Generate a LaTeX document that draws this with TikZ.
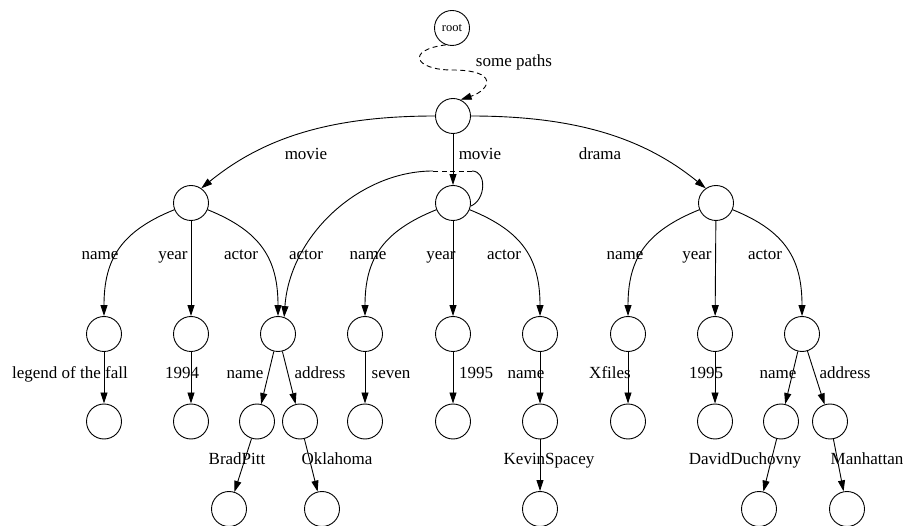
\documentclass[tikz,border=0pt]{standalone}
\usepackage{fontspec}
\setmainfont{Liberation Serif}
\usetikzlibrary{arrows.meta}
\tikzset{
  obj/.style={draw, circle, minimum size=35pt, inner sep=0pt, line width=0.9pt},
  lbl/.style={font=\fontsize{17}{20}\selectfont, inner sep=0pt, anchor=base},
  edge/.style={line width=0.9pt, -{Triangle[length=11pt,width=7pt]}},
  plain/.style={line width=0.9pt},
  dash5/.style={dash pattern=on 5pt off 3.5pt},
}
\begin{document}
\begin{tikzpicture}[x=1pt,y=1pt]
\useasboundingbox (0,0) rectangle (905,525);
% objects
\node[obj, font=\fontsize{12.5}{14}\selectfont] (root) at (452,497) {root};
\node[obj] (db) at (453,409) {};
\node[obj] (mv1) at (191,322) {};
\node[obj] (mv2) at (453,322) {};
\node[obj] (dr) at (716,322) {};
\node[obj] (nm1) at (104,191) {};
\node[obj] (yr1) at (191,191) {};
\node[obj] (ac1) at (278,191) {};
\node[obj] (nm2) at (365,191) {};
\node[obj] (yr2) at (453,191) {};
\node[obj] (ac2) at (540,191) {};
\node[obj] (nm3) at (628,191) {};
\node[obj] (yr3) at (715,191) {};
\node[obj] (ac3) at (802,191) {};
\node[obj] (v1) at (104,103.5) {};
\node[obj] (v2) at (191,103.5) {};
\node[obj] (acn1) at (257,103.5) {};
\node[obj] (aca1) at (300,103.5) {};
\node[obj] (v3) at (365,103.5) {};
\node[obj] (v4) at (453,103.5) {};
\node[obj] (acn2) at (540,103.5) {};
\node[obj] (v5) at (628,103.5) {};
\node[obj] (v6) at (715,103.5) {};
\node[obj] (acn3) at (781,103.5) {};
\node[obj] (aca3) at (830,103.5) {};
\node[obj] (w1) at (229,16) {};
\node[obj] (w2) at (322,16) {};
\node[obj] (w3) at (540,16) {};
\node[obj] (w4) at (759,16) {};
\node[obj] (w5) at (847,16) {};
\coordinate (loopa) at (472,354);
\coordinate (loopb) at (433,354);
% edges
\draw[edge, dash5] (root.250) .. controls (405,475) and (415,455) .. (452,455)
  .. controls (500,455) and (490,435) .. (db.65);
\draw[edge] (db.west) .. controls (330,409) and (263,387) .. (mv1.55);
\draw[edge] (db) -- (mv2);
\draw[edge] (db.east) .. controls (576,409) and (644,387) .. (dr.125);
\draw[plain] (mv2.-10) .. controls (486,325) and (487,354) .. (loopa);
\draw[plain, dash5] (loopa) -- (loopb);
\draw[edge] (loopb) .. controls (360,354) and (290,290) .. (ac1.70);
\foreach \p/\a/\b/\c in {mv1/nm1/yr1/ac1, mv2/nm2/yr2/ac2, dr/nm3/yr3/ac3}{
  \draw[edge] (\p) to[out=202, in=90, looseness=1.15] (\a);
  \draw[edge] (\p) -- (\b);
  \draw[edge] (\p) to[out=-22, in=90, looseness=1.15] (\c);
}
\foreach \s/\t in {nm1/v1, yr1/v2, ac1/acn1, ac1/aca1, nm2/v3, yr2/v4, ac2/acn2,
  nm3/v5, yr3/v6, ac3/acn3, ac3/aca3, acn1/w1, aca1/w2, acn2/w3, acn3/w4, aca3/w5}
  \draw[edge] (\s) -- (\t);
% labels
\node[lbl] (lpath) at (514,458) {some paths};
\node[lbl] (lmv1) at (306,365) {movie};
\node[lbl] (lmv2) at (480,365) {movie};
\node[lbl] (ldr) at (600,365) {drama};
\node[lbl] (lnm1) at (100,265) {name};
\node[lbl] (lyr1) at (173,265) {year};
\node[lbl] (lac1) at (241,265) {actor};
\node[lbl] (lac0) at (306,265) {actor};
\node[lbl] (lnm2) at (368,265) {name};
\node[lbl] (lyr2) at (441,265) {year};
\node[lbl] (lac2) at (504,265) {actor};
\node[lbl] (lnm3) at (625,265) {name};
\node[lbl] (lyr3) at (697,265) {year};
\node[lbl] (lac3) at (765,265) {actor};
\node[lbl] (lv1) at (70,146) {legend of the fall};
\node[lbl] (lv2) at (182,146) {1994};
\node[lbl] (lacn1) at (245,146) {name};
\node[lbl] (laca1) at (320,146) {address};
\node[lbl] (lv3) at (391,146) {seven};
\node[lbl] (lv4) at (476,146) {1995};
\node[lbl] (lacn2) at (526,146) {name};
\node[lbl] (lv5) at (610,146) {Xfiles};
\node[lbl] (lv6) at (706,146) {1995};
\node[lbl] (lacn3) at (778,146) {name};
\node[lbl] (laca3) at (845,146) {address};
\node[lbl] (lw1) at (237,60) {BradPitt};
\node[lbl] (lw2) at (337,60) {Oklahoma};
\node[lbl] (lw3) at (549,60) {KevinSpacey};
\node[lbl] (lw4) at (745,60) {DavidDuchovny};
\node[lbl] (lw5) at (867,60) {Manhattan};
\end{tikzpicture}
\end{document}
